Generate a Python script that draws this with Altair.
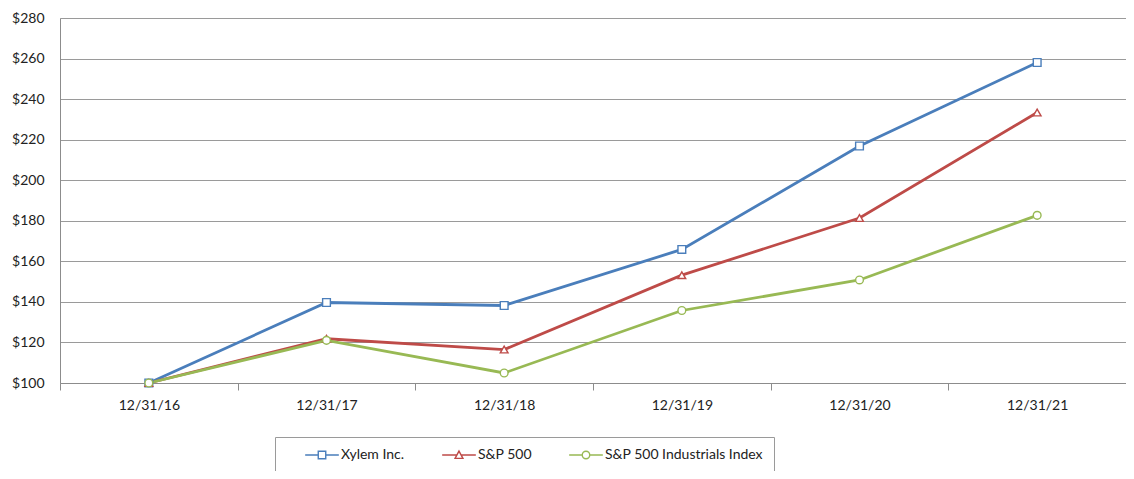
import altair as alt
import pandas as pd

dates = ["12/31/16", "12/31/17", "12/31/18", "12/31/19", "12/31/20", "12/31/21"]
series_names = ["Xylem Inc.", "S&P 500", "S&P 500 Industrials Index"]
xylem = [100.00, 139.71, 138.21, 165.86, 216.88, 258.05]
sp500 = [100.00, 121.83, 116.49, 153.17, 181.35, 233.41]
industrials = [100.00, 121.03, 104.94, 135.76, 150.82, 182.69]
colors = ["#4a7ebb", "#be4b48", "#98b954"]
y_ticks = [100, 120, 140, 160, 180, 200, 220, 240, 260, 280]

rows = []
for name, vals in zip(series_names, [xylem, sp500, industrials]):
    for d, v in zip(dates, vals):
        rows.append({"date": d, "series": name, "value": v})
df = pd.DataFrame(rows)

FONT = "Lato"

# legend symbol paths (marker with a line through it)
legend_paths = [
    "M-4.5,0H-1M1,0H4.5M-1,-1H1V1H-1Z",
    "M-4.5,0H-0.55M0.55,0H4.5M0,-1.05L1.05,0.9H-1.05Z",
    "M-4.5,0H-1M1,0H4.5M-1,0A1,1 0 1,0 1,0A1,1 0 1,0 -1,0Z",
]

x_enc = alt.X("date:N", sort=dates, title=None,
              scale=alt.Scale(paddingInner=0, paddingOuter=0),
              axis=alt.Axis(labelAngle=0, tickBand="extent", grid=False,
                            domainColor="#8c8c8c", tickColor="#8c8c8c",
                            tickSize=7, labelPadding=8,
                            labelFont=FONT, labelFontSize=14, labelColor="#222222"))
y_enc = alt.Y("value:Q", title=None,
              scale=alt.Scale(domain=[100, 280], nice=False, zero=False),
              axis=alt.Axis(values=y_ticks, labelExpr="'$' + datum.value",
                            grid=True, gridColor="#9a9a9a", gridWidth=1.2,
                            domainColor="#8c8c8c", ticks=False, labelPadding=16,
                            labelFont=FONT, labelFontSize=14, labelColor="#222222"))
color_nolegend = alt.Color("series:N", sort=series_names,
                           scale=alt.Scale(domain=series_names, range=colors),
                           legend=None)

lines = alt.Chart(df).mark_line(strokeWidth=2.8).encode(
    x=x_enc, y=y_enc, color=color_nolegend, detail="series:N"
)

points = alt.Chart(df).mark_point(filled=True, fill="white", size=60, strokeWidth=1.4, opacity=1).encode(
    x=x_enc, y=y_enc,
    stroke=alt.Stroke("series:N", sort=series_names,
                      scale=alt.Scale(domain=series_names, range=colors), legend=None),
    shape=alt.Shape("series:N", sort=series_names,
                    scale=alt.Scale(domain=series_names, range=["square", "triangle-up", "circle"]),
                    legend=None),
)

legend_props = dict(title=None, orient="none", direction="horizontal",
                    legendX=215, legendY=419,
                    strokeColor="#9a9a9a", padding=11,
                    symbolOffset=29, labelOffset=12,
                    columnPadding=18,
                    symbolOpacity=1, symbolFillColor="white",
                    symbolStrokeWidth=1.4, symbolSize=56,
                    labelFont=FONT, labelFontSize=14, labelColor="#222222")

legend_layer = alt.Chart(df).mark_point(size=56, strokeWidth=1.4, opacity=0).encode(
    x=x_enc, y=y_enc,
    color=alt.Color("series:N", sort=series_names,
                    scale=alt.Scale(domain=series_names, range=colors),
                    legend=alt.Legend(**legend_props)),
    shape=alt.Shape("series:N", sort=series_names,
                    scale=alt.Scale(domain=series_names, range=legend_paths),
                    legend=alt.Legend(**legend_props)),
)

chart = alt.layer(lines, points, legend_layer).resolve_scale(
    shape="independent", color="independent"
).properties(
    width=1066, height=365,
    autosize=alt.AutoSizeParams(type="none"),
    padding={"left": 52, "top": 10, "right": 0, "bottom": 88},
).configure_view(stroke=None).configure(background="white")

chart.save("out.html", embed_options={"renderer": "svg", "actions": False})
